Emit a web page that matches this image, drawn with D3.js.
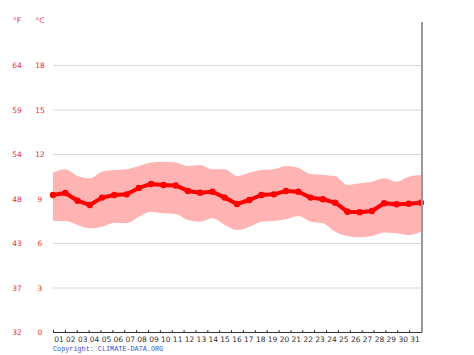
<!DOCTYPE html>
<html><head><meta charset="utf-8">
<script src="https://cdn.jsdelivr.net/npm/d3@7"></script>
<style>body{margin:0;background:#fff}svg{display:block}</style>
</head><body>
<script>
const days = ["01","02","03","04","05","06","07","08","09","10","11","12","13","14","15","16","17","18","19","20","21","22","23","24","25","26","27","28","29","30","31"];
const meanC = [9.24,9.37,8.85,8.56,9.06,9.24,9.28,9.71,9.98,9.91,9.88,9.51,9.39,9.46,9.06,8.63,8.90,9.24,9.28,9.51,9.46,9.06,8.95,8.72,8.11,8.07,8.16,8.68,8.61,8.65,8.72];
const maxC = [10.74,10.97,10.52,10.36,10.81,10.92,10.97,11.19,11.42,11.48,11.42,11.19,11.26,10.97,10.97,10.52,10.74,10.92,10.97,11.19,11.06,10.65,10.59,10.52,9.91,10.03,10.13,10.36,10.13,10.47,10.59];
const minC = [7.48,7.48,7.22,6.99,7.10,7.37,7.33,7.77,8.11,8.00,7.96,7.55,7.44,7.67,7.22,6.88,7.10,7.44,7.48,7.60,7.82,7.44,7.33,6.76,6.47,6.39,6.47,6.70,6.66,6.54,6.76];
const cTicks = [0,3,6,9,12,15,18];
const fTicks = ["32","37","43","48","54","59","64"];

const W=474,H=355, L=53, R=421, T=65, B=332;
const svg=d3.select("body").append("svg").attr("width",W).attr("height",H);
const y=d3.scaleLinear().domain([0,18]).range([B,T]);
const xb=d3.scaleBand().domain(days).range([L,R]);
const xp=d3.scalePoint().domain(days).range([L,R]);

// grid
svg.append("g").selectAll("line").data(cTicks.filter(d=>d>0)).join("line")
  .attr("x1",L).attr("x2",R).attr("y1",d=>y(d)+0.5).attr("y2",d=>y(d)+0.5)
  .attr("stroke","#d8d8d8").attr("stroke-width",1);

// tick labels
const lab=svg.append("g").attr("font-family","DejaVu Sans, Verdana, sans-serif").attr("font-size",7.5).attr("fill","#e8312f").attr("text-anchor","middle");
lab.selectAll("text.c").data(cTicks).join("text").attr("class","c").attr("x",40).attr("y",d=>y(d)+3).text(d=>d);
lab.selectAll("text.f").data(fTicks).join("text").attr("class","f").attr("x",17).attr("y",(d,i)=>y(cTicks[i])+3).text(d=>d);
lab.append("text").attr("x",17).attr("y",23).text("°F");
lab.append("text").attr("x",40).attr("y",23).text("°C");

// band
const area=d3.area().x((d,i)=>xp(days[i])).y0((d,i)=>y(minC[i])).y1((d,i)=>y(maxC[i])).curve(d3.curveMonotoneX);
svg.append("path").datum(days).attr("d",area).attr("fill","#ffb3b3");

// mean line
const line=d3.line().x((d,i)=>xp(days[i])).y(d=>y(d));
svg.append("path").datum(meanC).attr("d",line).attr("fill","none").attr("stroke","#ff0000").attr("stroke-width",4).attr("stroke-linejoin","round");
svg.append("g").selectAll("circle").data(meanC).join("circle")
  .attr("cx",(d,i)=>xp(days[i])).attr("cy",d=>y(d)).attr("r",3.2).attr("fill","#ff0000");

// right border
svg.append("line").attr("x1",R+1).attr("x2",R+1).attr("y1",22).attr("y2",B).attr("stroke","#999").attr("stroke-width",2);

// x axis
const ax=svg.append("g").attr("transform",`translate(0,${B})`);
ax.append("line").attr("x1",L).attr("x2",R+1).attr("y1",0.5).attr("y2",0.5).attr("stroke","#333");
ax.selectAll("line.t").data(days).join("line").attr("class","t")
  .attr("x1",d=>xb(d)+0.5).attr("x2",d=>xb(d)+0.5).attr("y1",-2).attr("y2",0.5).attr("stroke","#333");
ax.selectAll("text").data(days).join("text")
  .attr("x",d=>xb(d)+xb.bandwidth()/2).attr("y",10).attr("text-anchor","middle")
  .attr("font-family","DejaVu Sans, Verdana, sans-serif").attr("font-size",7.5).attr("fill","#333").text(d=>d);

svg.append("text").attr("x",L).attr("y",351).attr("font-family","Liberation Mono, DejaVu Sans Mono, monospace")
  .attr("font-size",6.8).attr("fill","#3355cc").text("Copyright: CLIMATE-DATA.ORG");
</script>
</body></html>
